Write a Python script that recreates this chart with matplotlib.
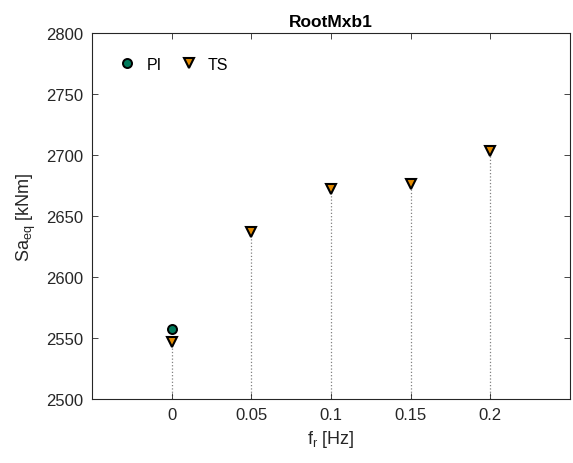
import matplotlib
matplotlib.use("Agg")
import matplotlib.pyplot as plt

plt.rcParams['font.family'] = ['Liberation Sans', 'DejaVu Sans']

# data
fr_pi = [0.0]
sa_pi = [2557.5]
fr_ts = [0.0, 0.05, 0.1, 0.15, 0.2]
sa_ts = [2546.5, 2636.5, 2672.0, 2676.0, 2703.5]
x_ticks = [0, 0.05, 0.1, 0.15, 0.2]
x_ticklabels = ['0', '0.05', '0.1', '0.15', '0.2']
y_ticks = [2500, 2550, 2600, 2650, 2700, 2750, 2800]

fig = plt.figure(figsize=(5.73, 4.64), dpi=100)
ax = fig.add_axes([0.1606, 0.1379, 0.8342, 0.7888])

# dotted stems
for x, y in zip(fr_ts, sa_ts):
    ax.plot([x, x], [2500, y], linestyle=':', color='#808080', linewidth=0.9, zorder=1)

ax.plot(fr_pi, sa_pi, linestyle='none', marker='o', markersize=6.5,
        markerfacecolor='#00795a', markeredgecolor='black', markeredgewidth=1.4,
        label='PI', zorder=3)
ax.plot(fr_ts, sa_ts, linestyle='none', marker='v', markersize=7.5,
        markerfacecolor='#e38a00', markeredgecolor='black', markeredgewidth=1.5,
        label='TS', zorder=3)

ax.set_xlim(-0.05, 0.25)
ax.set_ylim(2500, 2800)
ax.set_xticks(x_ticks)
ax.set_xticklabels(x_ticklabels)
ax.set_yticks(y_ticks)

ax.tick_params(direction='in', top=True, right=True, labelsize=12,
               colors='#262626', length=4, width=0.6, pad=6)
for s in ax.spines.values():
    s.set_color('#262626')
    s.set_linewidth(0.8)

ax.set_title('RootMxb1', fontsize=12.5, fontweight='bold', color='black', pad=5)
ax.set_xlabel(r'f$_\mathregular{r}$ [Hz]', fontsize=13, color='#262626', labelpad=4)
ax.set_ylabel(r'Sa$_\mathregular{eq}$ [kNm]', fontsize=13, color='#262626', labelpad=6)

leg = ax.legend(loc='upper left', ncol=2, frameon=False, fontsize=11.5,
                handletextpad=0.5, columnspacing=1.0, handlelength=1.4,
                bbox_to_anchor=(0.02, 0.975))

fig.savefig('out.png', dpi=100)
